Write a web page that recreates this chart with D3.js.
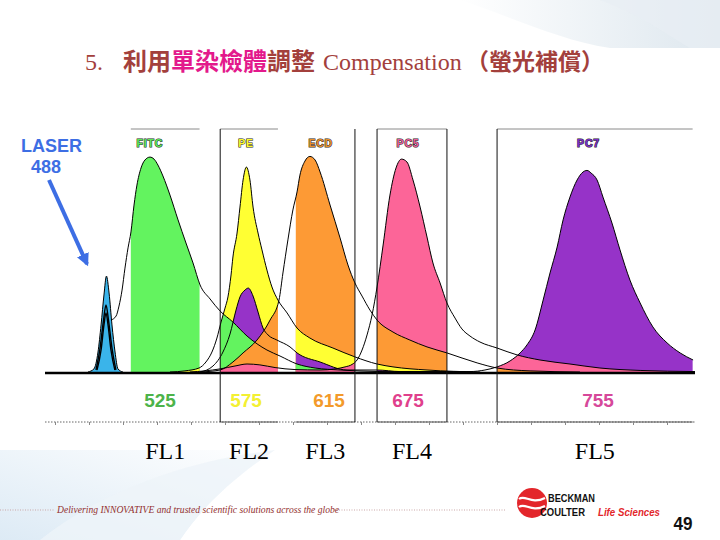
<!DOCTYPE html>
<html><head><meta charset="utf-8">
<script src="https://cdn.jsdelivr.net/npm/d3@7"></script>
<style>html,body{margin:0;padding:0;background:#fff;} svg{display:block;}</style>
</head><body>
<svg id="chart" width="720" height="540"></svg>
<script>
// ---------------- data ----------------
const dyes = ["FITC", "PE", "ECD", "PC5", "PC7"];
const channels = ["FL1", "FL2", "FL3", "FL4", "FL5"];
const channelCenters = [525, 575, 615, 675, 755];      // filter centre wavelengths (nm)
const bandLow  = [505, 560, 599, 651.5, 712.5];        // filter window edges (nm)
const bandHigh = [548, 590.4, 634.7, 691.4, 795];
const dyeLabelNm = [518, 575, 611, 675, 751];
const laserNm = 488;
const wlMin = 446, wlMax = 796;

// laser scatter peak
const laserWl  = [475.6, 479.7, 482.5, 484.6, 486.6, 488.3, 490.1, 492.1, 494.2, 496.2, 499.6];
const laserVal = [0, 1.4, 9.0, 21.2, 34.7, 43.2, 35.6, 21.2, 9.0, 1.4, 0];
const laserInnerAWl  = [481.1, 483.9, 486.3, 488.0, 489.7, 492.1, 494.8];
const laserInnerAVal = [0.9, 10.8, 23.4, 30.2, 23.4, 10.8, 0.9];
const laserInnerBWl  = [481.8, 484.6, 486.6, 488.0, 489.4, 491.4, 494.1];
const laserInnerBVal = [0.9, 9.9, 21.2, 26.6, 21.2, 9.9, 0.9];

// emission spectra (relative intensity, %)
const fitcWl  = [491.4, 494.9, 496.9, 499.0, 501.0, 503.1, 505.1, 507.2, 509.2, 512.0, 514.7, 518.1, 520.9, 523.6, 526.7, 530.8, 535.5, 540.1, 544.2, 548.3, 554.1, 559.9, 567.4, 575.5, 585.1, 591.4, 599.6, 608.3, 623.4, 653.7, 684.3];
const fitcVal = [23.4, 25.2, 29.7, 36.9, 46.8, 55.9, 63.1, 75.2, 84.2, 91.9, 95.5, 96.8, 95.9, 93.2, 88.3, 79.7, 68.5, 58.1, 49.1, 39.2, 32.9, 27.5, 22.5, 16.2, 9.9, 7.2, 3.6, 1.8, 0.9, 0.2, 0];

const peWl  = [530.8, 539.5, 547.7, 551.7, 555.2, 558.1, 560.5, 562.8, 564.5, 566.3, 567.4, 569.8, 571.5, 573.3, 575.2, 576.9, 578.4, 580.8, 582.7, 585.1, 587.5, 590.4, 594.8, 599.6, 605.8, 618.0, 634.7, 651.5, 663.6, 683.0, 705.3];
const peVal = [0, 0.5, 1.8, 4.5, 9.0, 15.3, 22.5, 28.8, 33.8, 43.7, 51.8, 62.6, 74.3, 86.5, 92.3, 86.5, 74.3, 62.6, 55.0, 45.9, 38.3, 32.4, 26.6, 19.8, 15.3, 10.8, 6.8, 3.6, 2.3, 0.9, 0];

const ecdWl  = [548.3, 559.9, 567.4, 573.3, 580.3, 586.6, 590.9, 592.8, 595.2, 597.6, 599.6, 601.0, 603.4, 605.8, 608.3, 610.7, 615.8, 623.4, 629.4, 634.7, 640.1, 646.1, 651.5, 663.6, 675.8, 683.0, 691.4, 704.1, 712.5, 726.4, 747.4];
const ecdVal = [0, 0.9, 4.5, 8.6, 14.4, 23.4, 32.4, 44.6, 59.5, 73.0, 81.1, 88.7, 95.0, 97.1, 95.5, 90.1, 75.2, 60.4, 48.2, 40.1, 34.2, 27.9, 23.4, 18.0, 14.4, 11.3, 8.6, 4.1, 1.8, 0.5, 0];

const pc5Wl  = [542.4, 551.2, 559.9, 568.6, 575.5, 581.7, 589.0, 598.6, 610.7, 619.6, 627.2, 632.5, 636.3, 640.1, 643.9, 647.7, 651.5, 656.1, 661.3, 665.9, 670.1, 674.2, 677.1, 680.1, 683.0, 685.5, 688.5, 691.4, 694.8, 697.7, 701.1, 705.3, 712.5, 720.9, 730.6, 743.2, 755.8, 772.8, 796];
const pc5Val = [0, 0.5, 1.4, 2.7, 3.6, 3.2, 2.0, 1.1, 0.9, 1.4, 2.3, 3.4, 5.4, 9.9, 16.7, 25.7, 38.3, 57.2, 79.7, 91.9, 95.9, 94.6, 86.5, 74.3, 60.8, 49.1, 40.1, 31.1, 24.3, 19.4, 16.2, 13.5, 10.8, 7.7, 5.4, 3.6, 1.8, 0.7, 0.2];

const pc7Wl  = [548.3, 555.8, 561.6, 565.7, 569.2, 571.5, 574.4, 576.1, 578.4, 580.8, 583.2, 585.6, 589.9, 596.2, 599.6, 610.7, 628.7, 651.5, 668.9, 701.1, 707.4, 712.5, 718.0, 722.2, 725.1, 728.5, 731.9, 734.8, 737.8, 740.3, 743.2, 746.2, 748.7, 750.4, 752.1, 754.6, 757.1, 760.9, 764.3, 768.5, 772.8, 778.2, 784.2, 789.7, 795.2];
const pc7Val = [0, 2.7, 9.0, 17.1, 27.9, 33.8, 36.9, 37.8, 34.2, 27.0, 19.8, 16.7, 14.4, 11.3, 8.6, 4.5, 0.9, 0.9, 0.2, 0.2, 0.9, 2.3, 5.0, 8.6, 12.2, 18.9, 32.4, 44.6, 56.3, 68.5, 78.8, 86.5, 90.1, 90.8, 89.6, 86.5, 78.8, 67.1, 55.0, 41.4, 31.1, 20.3, 13.1, 8.6, 5.4];

// order in which spill-over of other dyes is layered inside each filter window
const overlapOrder = [
  ["PE", "PC7", "ECD", "PC5"],
  ["PC7", "FITC", "ECD", "PC5"],
  ["PE", "PC7", "FITC", "PC5"],
  ["ECD", "PE", "PC7"],
  ["PC5", "ECD"]
];

// ---------------- drawing ----------------
const spectra = {
  FITC: d3.zip(fitcWl, fitcVal),
  PE: d3.zip(peWl, peVal),
  ECD: d3.zip(ecdWl, ecdVal),
  PC5: d3.zip(pc5Wl, pc5Val),
  PC7: d3.zip(pc7Wl, pc7Val)
};
const fillColor = { FITC: "#63f35f", PE: "#ffff33", ECD: "#fd9a35", PC5: "#fc6598", PC7: "#9633c8" };
const numColor = ["#4db34a", "#f3f032", "#f39a2a", "#e0408c", "#d6489a"];
const dyeLabelColor = { FITC: "#5ee85a", PE: "#ffff30", ECD: "#e8902e", PC5: "#e8609a", PC7: "#7a30c8" };

const svg = d3.select("#chart");
const defs = svg.append("defs");

// slide background
const g1 = defs.append("linearGradient").attr("id", "bgTop").attr("x1", 0).attr("y1", 0).attr("x2", 1).attr("y2", 0);
g1.append("stop").attr("offset", 0).attr("stop-color", "#ffffff");
g1.append("stop").attr("offset", 1).attr("stop-color", "#d5e1ea");
const g2 = defs.append("linearGradient").attr("id", "bgBot").attr("x1", 0).attr("y1", 1).attr("x2", 1).attr("y2", 0);
g2.append("stop").attr("offset", 0).attr("stop-color", "#d9e8f4");
g2.append("stop").attr("offset", 1).attr("stop-color", "#ffffff");
svg.append("path").attr("d", "M460,0 L720,0 L720,48 L610,48 C560,40 520,20 460,0 Z").attr("fill", "url(#bgTop)").attr("opacity", 0.8);
svg.append("path").attr("d", "M600,0 C640,15 660,30 690,48 L720,48 L720,0 Z").attr("fill", "#e8eef3").attr("opacity", 0.7);
svg.append("path").attr("d", "M0,450 L275,450 C230,480 200,510 180,540 L0,540 Z").attr("fill", "url(#bgBot)").attr("opacity", 0.9);
svg.append("path").attr("d", "M40,540 C90,500 160,470 240,455 L275,450 C230,480 200,510 180,540 Z").attr("fill", "#eef4f9").attr("opacity", 0.8);

// scales
const x = d3.scaleLinear()
  .domain([wlMin, laserNm, ...channelCenters, wlMax])
  .range([45, 106, 160, 246, 329, 408, 598, 695]);
const y = d3.scaleLinear().domain([0, 100]).range([372, 150]);

const area = d3.area().x(d => x(d[0])).y0(y(0)).y1(d => y(d[1])).curve(d3.curveMonotoneX);
const line = d3.line().x(d => x(d[0])).y(d => y(d[1])).curve(d3.curveMonotoneX);

// clip paths: filter windows and dye areas
channels.forEach((c, i) => {
  defs.append("clipPath").attr("id", "band" + i).append("rect")
    .attr("x", x(bandLow[i])).attr("y", 100)
    .attr("width", x(bandHigh[i]) - x(bandLow[i])).attr("height", y(0) - 100);
});
dyes.forEach(d => {
  defs.append("clipPath").attr("id", "area" + d).append("path").attr("d", area(spectra[d]));
});

const plot = svg.append("g");

// filled windows
channels.forEach((c, i) => {
  const primary = dyes[i];
  const g = plot.append("g").attr("clip-path", `url(#band${i})`);
  g.append("path").attr("d", area(spectra[primary])).attr("fill", fillColor[primary]);
  const inner = g.append("g").attr("clip-path", `url(#area${primary})`);
  overlapOrder[i].forEach(d => {
    inner.append("path").attr("d", area(spectra[d])).attr("fill", fillColor[d]);
  });
});

// laser peak
const laser = d3.zip(laserWl, laserVal);
plot.append("path").attr("d", area(laser)).attr("fill", "#3ab4ea");
plot.append("path").attr("d", line(laser)).attr("fill", "none").attr("stroke", "#000").attr("stroke-width", 1);
[d3.zip(laserInnerAWl, laserInnerAVal), d3.zip(laserInnerBWl, laserInnerBVal)].forEach(s => {
  plot.append("path").attr("d", line(s)).attr("fill", "none").attr("stroke", "#000").attr("stroke-width", 1.4);
});

// spectrum outlines
dyes.forEach(d => {
  plot.append("path").attr("d", line(spectra[d])).attr("fill", "none")
    .attr("stroke", "#000").attr("stroke-width", 1);
});

// baseline
plot.append("line").attr("x1", x(wlMin)).attr("x2", x(wlMax)).attr("y1", y(0) + 1).attr("y2", y(0) + 1)
  .attr("stroke", "#000").attr("stroke-width", 2.5);

// filter frames
const topY = 129, botY = 422;
const frames = [
  { top: true },
  { left: true, top: true, bottom: true },
  { right: true, bottom: true },
  { left: true, right: true, top: true, bottom: true },
  { left: true, top: true, bottom: true }
];
// dotted axis line
plot.append("line").attr("x1", 45).attr("x2", 695).attr("y1", botY).attr("y2", botY)
  .attr("stroke", "#666").attr("stroke-width", 1).attr("stroke-dasharray", "1.5,1.5");
frames.forEach((f, i) => {
  const a = x(bandLow[i]), b = x(bandHigh[i]);
  if (f.top) plot.append("line").attr("x1", a).attr("x2", b).attr("y1", topY).attr("y2", topY).attr("stroke", "#8a8a8a");
  if (f.bottom) plot.append("line").attr("x1", a).attr("x2", b).attr("y1", botY).attr("y2", botY).attr("stroke", "#555");
  if (f.left) plot.append("line").attr("x1", a).attr("x2", a).attr("y1", topY).attr("y2", botY).attr("stroke", "#111");
  if (f.right) plot.append("line").attr("x1", b).attr("x2", b).attr("y1", topY).attr("y2", botY).attr("stroke", "#111");
});
// faint histogram-axis ticks
const tickScale = d3.scaleLinear().domain([0, 19]).range([55, 701]);
const tickAxis = plot.append("g").attr("transform", `translate(0,${botY})`)
  .call(d3.axisBottom(tickScale).tickValues(d3.range(0, 19)).tickSize(3).tickFormat(""));
tickAxis.select(".domain").remove();
tickAxis.selectAll("line").attr("stroke", "#888");

// dye labels above windows
dyes.forEach((d, i) => {
  plot.append("text").attr("x", x(dyeLabelNm[i])).attr("y", 147).attr("text-anchor", "middle")
    .attr("font-family", "Liberation Sans, Arial, sans-serif").attr("font-weight", 700)
    .attr("font-size", 10.5).attr("letter-spacing", 0.8)
    .attr("fill", dyeLabelColor[d]).attr("stroke", "#2a2a2a").attr("stroke-width", 1.1)
    .attr("paint-order", "stroke").text(d);
});

// channel centre wavelengths and FL names
channelCenters.forEach((c, i) => {
  plot.append("text").attr("x", x(c)).attr("y", 407).attr("text-anchor", "middle")
    .attr("font-family", "Liberation Sans, Arial, sans-serif").attr("font-weight", 700)
    .attr("font-size", 19).attr("fill", numColor[i]).text(c);
  plot.append("text").attr("x", (x(bandLow[i]) + x(bandHigh[i])) / 2).attr("y", 459).attr("text-anchor", "middle")
    .attr("font-family", "Liberation Serif, Times New Roman, serif")
    .attr("font-size", 24).attr("fill", "#000").text(channels[i]);
});

// laser annotation
const blue = "#3d6ee4";
svg.append("text").attr("x", 21).attr("y", 152).attr("font-family", "Liberation Sans, Arial, sans-serif")
  .attr("font-weight", 700).attr("font-size", 18).attr("fill", blue).text("LASER");
svg.append("text").attr("x", 31).attr("y", 173).attr("font-family", "Liberation Sans, Arial, sans-serif")
  .attr("font-weight", 700).attr("font-size", 18).attr("fill", blue).text(laserNm);
defs.append("marker").attr("id", "arrowHead").attr("viewBox", "0 0 10 10").attr("refX", 8).attr("refY", 5)
  .attr("markerWidth", 3.2).attr("markerHeight", 3.2).attr("orient", "auto")
  .append("path").attr("d", "M0,0 L10,5 L0,10 Z").attr("fill", blue);
svg.append("line").attr("x1", 49).attr("y1", 180).attr("x2", 87).attr("y2", 264)
  .attr("stroke", blue).attr("stroke-width", 4).attr("marker-end", "url(#arrowHead)");

// title
const cjk = "Noto Sans CJK TC";
const title = svg.append("text").attr("y", 70).attr("font-size", 24).attr("fill", "#a3403c")
  .attr("font-family", "Liberation Serif, Times New Roman, Noto Sans CJK TC, serif");
title.append("tspan").attr("x", 85).text("5.");
title.append("tspan").attr("x", 123).attr("font-family", cjk).attr("font-weight", 700).attr("font-size", 24).text("利用");
title.append("tspan").attr("font-family", cjk).attr("font-weight", 700).attr("font-size", 24).attr("fill", "#e3198c").text("單染檢體");
title.append("tspan").attr("font-family", cjk).attr("font-weight", 700).attr("font-size", 24).text("調整");
title.append("tspan").attr("x", 323).text("Compensation");
title.append("tspan").attr("x", 466).attr("font-family", cjk).attr("font-weight", 700).attr("font-size", 23).text("（螢光補償）");

// footer
svg.append("line").attr("x1", 0).attr("x2", 54).attr("y1", 510).attr("y2", 510)
  .attr("stroke", "#c9a7a7").attr("stroke-dasharray", "1,1.5");
svg.append("line").attr("x1", 334).attr("x2", 506).attr("y1", 510).attr("y2", 510)
  .attr("stroke", "#c9a7a7").attr("stroke-dasharray", "1,1.5");
svg.append("text").attr("x", 57).attr("y", 513).attr("font-family", "Liberation Serif, serif")
  .attr("font-style", "italic").attr("font-size", 9.6).attr("fill", "#93302f")
  .text("Delivering INNOVATIVE and trusted scientific solutions across the globe");
svg.append("circle").attr("cx", 532).attr("cy", 503).attr("r", 15).attr("fill", "#e3262b");
svg.append("path").attr("d", "M519,499 C525,494 531,505 545,498").attr("fill", "none").attr("stroke", "#fff").attr("stroke-width", 2.2);
svg.append("path").attr("d", "M519,507 C525,502 531,513 545,506").attr("fill", "none").attr("stroke", "#fff").attr("stroke-width", 2.2);
const logoFont = "Liberation Sans, Arial, sans-serif";
svg.append("text").attr("x", 548).attr("y", 502).attr("font-family", logoFont)
  .attr("font-weight", 700).attr("font-size", 11.5).attr("fill", "#111")
  .attr("textLength", 47).attr("lengthAdjust", "spacingAndGlyphs").text("BECKMAN");
svg.append("text").attr("x", 540).attr("y", 516).attr("font-family", logoFont)
  .attr("font-weight", 700).attr("font-size", 11.5).attr("fill", "#111")
  .attr("textLength", 45).attr("lengthAdjust", "spacingAndGlyphs").text("COULTER");
svg.append("text").attr("x", 598).attr("y", 516).attr("font-family", logoFont)
  .attr("font-weight", 700).attr("font-style", "italic").attr("font-size", 11.5).attr("fill", "#e3262b")
  .attr("textLength", 62).attr("lengthAdjust", "spacingAndGlyphs").text("Life Sciences");
svg.append("text").attr("x", 683).attr("y", 530).attr("text-anchor", "middle")
  .attr("font-family", logoFont).attr("font-weight", 700).attr("font-size", 18).attr("fill", "#111")
  .attr("textLength", 19).attr("lengthAdjust", "spacingAndGlyphs").text("49");
</script>
</body></html>
